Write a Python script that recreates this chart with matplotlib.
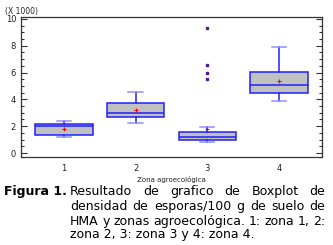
"""
Boxplot de densidad de esporas por zona agroecológica
"""
import matplotlib
matplotlib.use('Agg')
import matplotlib.pyplot as plt
from matplotlib.ticker import MultipleLocator

plt.rcParams['font.family'] = ['DejaVu Sans']

# datos (unidades x 1000)
zonas = [1, 2, 3, 4]
whislo = [1.17, 2.22, 0.80, 3.90]
q1 = [1.32, 2.71, 0.97, 4.46]
med = [2.05, 2.96, 1.22, 5.05]
q3 = [2.16, 3.75, 1.54, 6.04]
whishi = [2.41, 4.53, 1.96, 7.93]
medias = [1.77, 3.21, 1.80, 5.37]
atipicos = [[], [], [9.35, 6.57, 6.0, 5.5], []]

AZUL = '#2020ff'
GRIS = '#c0c0c0'
FS = 9

fig = plt.figure(figsize=(3.33, 2.45), dpi=100)
ax = fig.add_axes([0.063, 0.359, 0.904, 0.572])

stats = []
for i in range(len(zonas)):
    stats.append(dict(whislo=whislo[i], q1=q1[i], med=med[i], q3=q3[i],
                      whishi=whishi[i], mean=medias[i], fliers=atipicos[i]))

ax.bxp(stats, positions=zonas, widths=0.8, patch_artist=True, showmeans=True,
       boxprops=dict(facecolor=GRIS, edgecolor=AZUL, linewidth=1.1),
       medianprops=dict(color=AZUL, linewidth=1.1),
       whiskerprops=dict(color=AZUL, linewidth=1.1),
       capprops=dict(color='#8f8fff', linewidth=1.1),
       capwidths=0.2,
       meanprops=dict(marker='+', markeredgecolor='red', markersize=2.5, markeredgewidth=0.8),
       flierprops=dict(marker='s', markerfacecolor='#4b1a9a', markeredgecolor='#4b1a9a',
                       markersize=1.8))

ax.set_xlim(0.4, 4.6)
ax.set_ylim(-0.3, 10.15)
ax.yaxis.set_major_locator(MultipleLocator(2))
ax.yaxis.set_minor_locator(MultipleLocator(0.5))
ax.tick_params(axis='y', which='both', direction='in', right=True, labelsize=6,
               labelcolor='#222222', color='#333333', width=0.8)
ax.tick_params(axis='y', which='major', length=4)
ax.tick_params(axis='y', which='minor', length=2)
ax.tick_params(axis='x', length=0, labelsize=6, labelcolor='#222222', pad=5)
ax.set_xticks(zonas)
ax.set_xticklabels([str(z) for z in zonas])
for s in ax.spines.values():
    s.set_color('#333333')
    s.set_linewidth(0.9)

ax.set_xlabel('Zona agroecológica', fontsize=5, color='#222222', labelpad=2)
fig.text(0.015, 0.955, '(X 1000)', fontsize=5.5, color='#222222', va='center')

# pie de figura (texto justificado)
fig.text(0.012, 0.22, 'Figura 1.', fontsize=FS, fontweight='bold', va='center')
lineas = ['Resultado de grafico de Boxplot de',
          'densidad de  esporas/100 g de suelo  de',
          'HMA y zonas agroecológica. 1: zona 1, 2:',
          'zona 2, 3: zona 3 y 4: zona 4.']
ys = [0.22, 0.157, 0.096, 0.042]
x0, x1 = 0.21, 0.977
W = fig.get_figwidth() * fig.dpi
renderer = fig.canvas.get_renderer()
for k, (t, y) in enumerate(zip(lineas, ys)):
    if k == len(lineas) - 1:
        fig.text(x0, y, t, fontsize=FS, va='center')
        continue
    palabras = t.split()
    objs = [fig.text(0, y, p, fontsize=FS, va='center') for p in palabras]
    anchos = [o.get_window_extent(renderer).width / W for o in objs]
    hueco = (x1 - x0 - sum(anchos)) / (len(palabras) - 1)
    x = x0
    for o, a in zip(objs, anchos):
        o.set_x(x)
        x += a + hueco

plt.savefig('out.png', dpi=100)
plt.close()
